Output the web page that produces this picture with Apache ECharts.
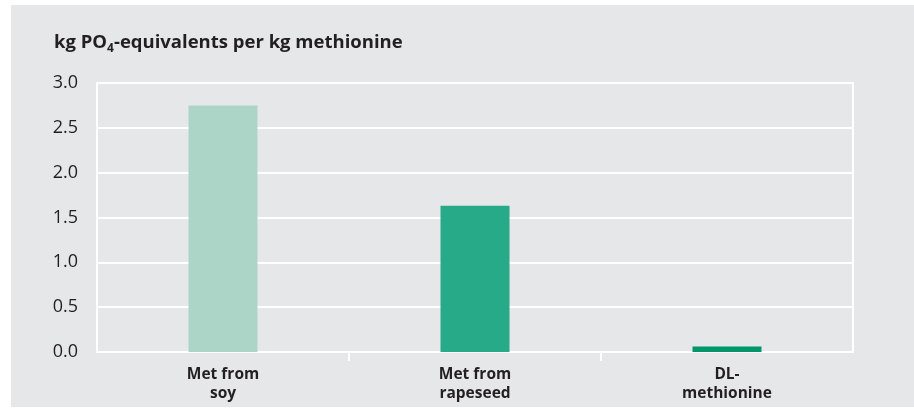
<!DOCTYPE html>
<html>
<head>
<meta charset="utf-8">
<script src="https://cdn.jsdelivr.net/npm/echarts@6/dist/echarts.min.js"></script>
<style>
  html, body { margin: 0; padding: 0; background: #ffffff; }
  #chart { width: 914px; height: 408px; }
</style>
</head>
<body>
<div id="chart"></div>
<script>
// Phosphate-equivalent footprint per kg methionine, by source
const categories = ['Met from\nsoy', 'Met from\nrapeseed', 'DL-\nmethionine'];
const values = [2.75, 1.63, 0.06];
const barColors = ['#acd5c8', '#27aa88', '#009669'];
const yTicks = { min: 0, max: 3, interval: 0.5 };
// separators between neighbouring categories (inner boundaries only)
const separatorPositions = [1, 2];

const chart = echarts.init(document.getElementById('chart'));
const textColor = '#231f20';
const font = '"Open Sans", "Noto Sans", sans-serif';

chart.setOption({
  backgroundColor: '#ffffff',
  animation: false,
  graphic: [
    {
      type: 'rect',
      z: -10,
      shape: { x: 11, y: 5, width: 903, height: 402 },
      style: { fill: '#e6e7e8' }
    },
    {
      type: 'text',
      left: 54,
      top: 31,
      style: {
        text: '{t|kg PO}{s|4}{t|-equivalents per kg methionine}',
        rich: {
          t: { fontFamily: font, fontWeight: 'bold', fontSize: 18.5, fill: textColor, lineHeight: 24 },
          s: { fontFamily: font, fontWeight: 'bold', fontSize: 12, fill: textColor, padding: [12, 0, 0, 0], lineHeight: 24 }
        }
      }
    }
  ],
  grid: {
    left: 97, right: 61, top: 83, bottom: 56,
    show: true,
    borderColor: '#ffffff',
    borderWidth: 2,
    backgroundColor: 'transparent'
  },
  xAxis: [
    {
      type: 'category',
      data: categories,
      axisLine: { show: true, lineStyle: { color: '#ffffff', width: 2 } },
      axisTick: { show: false },
      axisLabel: {
        color: textColor,
        fontFamily: font,
        fontWeight: 'bold',
        fontSize: 15.5,
        lineHeight: 19,
        margin: 13
      }
    },
    {
      type: 'value',
      position: 'bottom',
      min: 0,
      max: categories.length,
      axisLine: { show: false },
      splitLine: { show: false },
      axisLabel: { show: false },
      axisTick: {
        show: true,
        length: 9,
        customValues: separatorPositions,
        lineStyle: { color: '#ffffff', width: 2 }
      }
    }
  ],
  yAxis: {
    type: 'value',
    min: yTicks.min,
    max: yTicks.max,
    interval: yTicks.interval,
    axisLine: { show: false },
    axisTick: { show: false },
    splitLine: { lineStyle: { color: '#ffffff', width: 2 } },
    axisLabel: {
      color: textColor,
      fontFamily: font,
      fontSize: 18,
      margin: 19,
      formatter: v => v.toFixed(1)
    }
  },
  series: [{
    type: 'bar',
    xAxisIndex: 0,
    barWidth: 69,
    data: values.map((v, i) => ({ value: v, itemStyle: { color: barColors[i] } }))
  }]
});
</script>
</body>
</html>
